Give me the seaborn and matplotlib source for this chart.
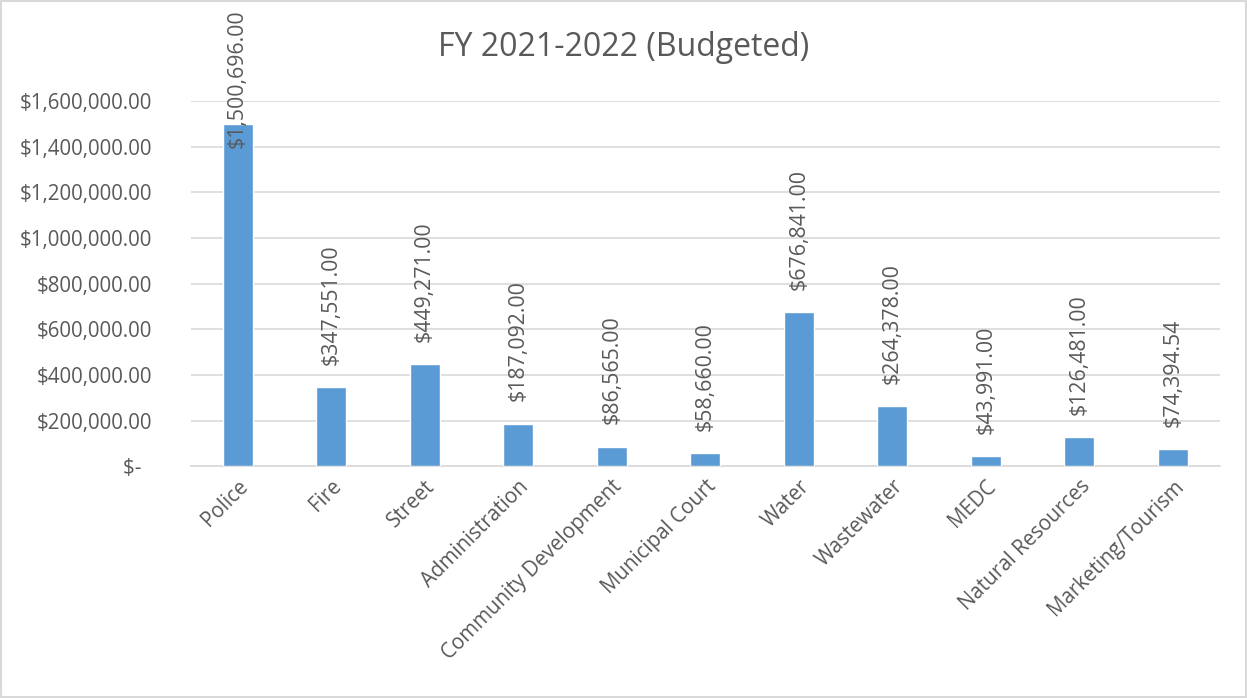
import matplotlib
matplotlib.use("Agg")
import matplotlib.pyplot as plt
import seaborn as sns
import pandas as pd

departments = ["Police", "Fire", "Street", "Administration", "Community Development",
               "Municipal Court", "Water", "Wastewater", "MEDC", "Natural Resources",
               "Marketing/Tourism"]
budget = [1500696.00, 347551.00, 449271.00, 187092.00, 86565.00, 58660.00,
          676841.00, 264378.00, 43991.00, 126481.00, 74394.54]
y_ticks = [0, 200000, 400000, 600000, 800000, 1000000, 1200000, 1400000, 1600000]
title = "FY 2021-2022 (Budgeted)"

sns.set_theme(style="white")
plt.rcParams['font.family'] = ['Open Sans', 'DejaVu Sans']
text_color = "#595959"

df = pd.DataFrame({"dept": departments, "budget": budget})

fig = plt.figure(figsize=(12.47, 6.98), dpi=100)
ax = fig.add_axes([0.153, 0.332, 0.825, 0.523])
sns.barplot(data=df, x="dept", y="budget", color="#5B9BD5", width=0.32,
            saturation=1, ax=ax, zorder=3)
ax.set_ylim(0, 1600000)
ax.set_xlim(-0.5, len(departments) - 0.5)
ax.set_yticks(y_ticks)
ax.set_yticklabels([("$%s" % format(v, ",.2f")) if v else "$-  " for v in y_ticks],
                   fontsize=14.8, color=text_color)
ax.tick_params(axis='y', length=0, pad=28)
ax.tick_params(axis='x', length=0, pad=7)
ax.set_xticks(range(len(departments)))
ax.set_xticklabels(departments, rotation=45, ha='right', rotation_mode='anchor',
                   fontsize=14.8, color=text_color)
ax.set_xlabel("")
ax.set_ylabel("")
ax.grid(axis='y', color="#D9D9D9", linewidth=1.2, zorder=0)
for s in ["top", "right", "left"]:
    ax.spines[s].set_visible(False)
ax.spines["bottom"].set_color("#D9D9D9")
ax.spines["bottom"].set_linewidth(1.2)

for i, v in enumerate(budget):
    lbl = "$" + format(v, ",.2f")
    off = -17.5 if v > 1200000 else 16
    ax.annotate(lbl, (i, v), xytext=(0, off), textcoords="offset points",
                rotation=90, ha='center', va='bottom', fontsize=15.3,
                color=text_color, zorder=4)

fig.text(0.5, 0.932, title, ha='center', va='center', fontsize=23, color=text_color)

border = plt.Rectangle((0.001, 0.001), 0.998, 0.998, transform=fig.transFigure,
                       fill=False, edgecolor="#D9D9D9", linewidth=1.5)
fig.patches.append(border)

fig.savefig("out.png", dpi=100, facecolor="white")
